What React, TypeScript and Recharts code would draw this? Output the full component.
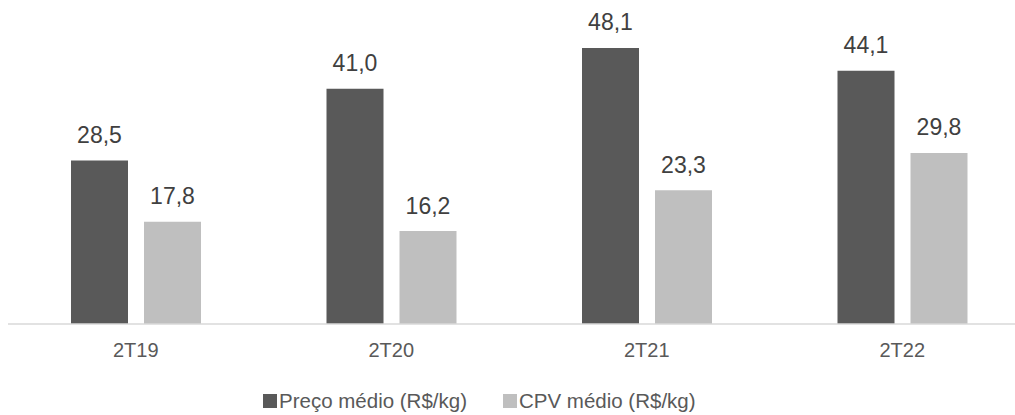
import { BarChart, Bar, XAxis, YAxis, LabelList } from "recharts";

const quarters = ["2T19", "2T20", "2T21", "2T22"];
const precoMedio = [28.5, 41.0, 48.1, 44.1];
const cpvMedio = [17.8, 16.2, 23.3, 29.8];

const seriesNames = ["Preço médio (R$/kg)", "CPV médio (R$/kg)"];
const seriesColors = ["#595959", "#BFBFBF"];

const data = quarters.map((q, i) => ({
  quarter: q,
  preco: precoMedio[i],
  cpv: cpvMedio[i],
}));

const FONT = "Arial, 'Liberation Sans', sans-serif";

const fmt = (v: number) => v.toFixed(1).replace(".", ",");

function ValueLabel(props: any) {
  const { x, y, width, value } = props;
  return (
    <text
      x={x + width / 2}
      y={y - 17.5}
      textAnchor="middle"
      fontFamily={FONT}
      fontSize={23}
      fill="#404040"
    >
      {fmt(value)}
    </text>
  );
}

function QuarterTick(props: any) {
  const { x, y, payload } = props;
  return (
    <text
      x={x}
      y={y + 33}
      textAnchor="middle"
      fontFamily={FONT}
      fontSize={20}
      fill="#595959"
    >
      {payload.value}
    </text>
  );
}

// legend drawn as plain html so it doesn't eat into the plot height
function SeriesLegend() {
  return (
    <div
      style={{
        position: "absolute",
        left: 263,
        top: 389,
        display: "flex",
        alignItems: "center",
        fontFamily: FONT,
        fontSize: 20.5,
        color: "#595959",
        lineHeight: "24px",
        whiteSpace: "nowrap",
      }}
    >
      {seriesNames.map((name, i) => (
        <div
          key={name}
          style={{ display: "flex", alignItems: "center", marginRight: i === 0 ? 36 : 0 }}
        >
          <span
            style={{
              display: "inline-block",
              width: 14,
              height: 14,
              background: seriesColors[i],
              marginRight: 2,
            }}
          />
          <span>{name}</span>
        </div>
      ))}
    </div>
  );
}

export default function App() {
  return (
    <div
      style={{
        position: "absolute",
        left: 0,
        top: 0,
        width: 1015,
        height: 415,
        overflow: "hidden",
        background: "#fff",
      }}
    >
      <BarChart
        width={1040}
        height={415}
        data={data}
        margin={{ top: 37, right: 10, left: 8, bottom: 61 }}
        barSize={57}
        barGap={16}
      >
        <XAxis
          dataKey="quarter"
          height={30}
          axisLine={{ stroke: "#D9D9D9", strokeWidth: 1.5 }}
          tickLine={false}
          tickSize={0}
          tickMargin={0}
          interval={0}
          tick={<QuarterTick />}
        />
        <YAxis hide domain={[0, 50]} />
        <Bar dataKey="preco" name={seriesNames[0]} fill={seriesColors[0]} isAnimationActive={false}>
          <LabelList dataKey="preco" content={<ValueLabel />} />
        </Bar>
        <Bar dataKey="cpv" name={seriesNames[1]} fill={seriesColors[1]} isAnimationActive={false}>
          <LabelList dataKey="cpv" content={<ValueLabel />} />
        </Bar>
      </BarChart>
      <SeriesLegend />
    </div>
  );
}
